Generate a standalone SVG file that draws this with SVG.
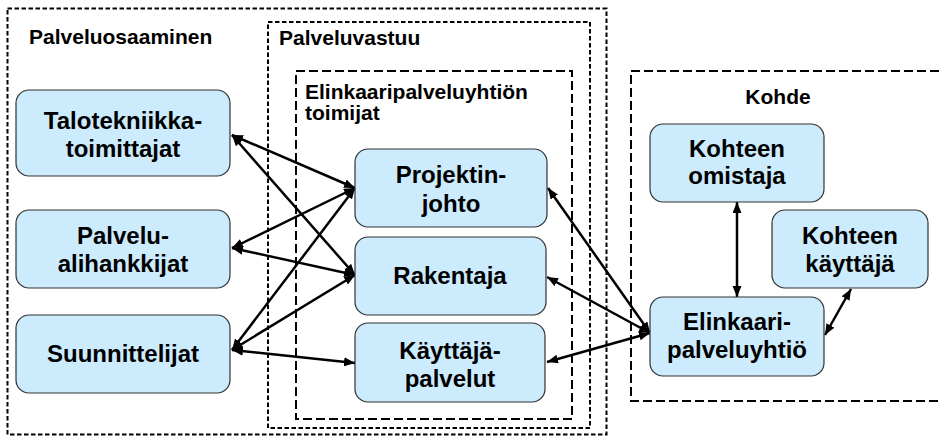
<svg xmlns="http://www.w3.org/2000/svg" width="942" height="436" viewBox="0 0 942 436">
  <style>
    .frame { fill: none; stroke: #000; stroke-width: 2; }
    .short { stroke-dasharray: 4.5 2.5; }
    .long { stroke-dasharray: 9 4; }
    .title { font-family: "Liberation Sans", Arial, sans-serif; font-weight: bold; font-size: 21px; fill: #000; }
    .node rect { fill: #CCEBFD; stroke: #333; stroke-width: 1.2; }
    .node text { font-family: "Liberation Sans", Arial, sans-serif; font-weight: bold; font-size: 24px; fill: #000; text-anchor: middle; }
    .link { stroke: #000; stroke-width: 2.5; fill: none; marker-start: url(#arrow); marker-end: url(#arrow); }
  </style>
  <defs>
    <marker id="arrow" markerUnits="userSpaceOnUse" markerWidth="12" markerHeight="10" refX="11" refY="4.5" orient="auto-start-reverse">
      <path d="M0,0 L11,4.5 L0,9 Z" fill="#000"/>
    </marker>
  </defs>
  <rect width="942" height="436" fill="#fff"/>

  <!-- grouping frames -->
  <g id="frames">
    <rect class="frame short" x="7.5" y="8.5" width="599" height="426"/>
    <rect class="frame short" x="268" y="22" width="322" height="406"/>
    <rect class="frame long" x="296" y="71" width="276" height="348"/>
    <rect class="frame long" x="631" y="71" width="320" height="330"/>
    <text class="title" x="29" y="44">Palveluosaaminen</text>
    <text class="title" x="279" y="45">Palveluvastuu</text>
    <text class="title" x="305" y="99">Elinkaaripalveluyhtiön</text>
    <text class="title" x="305" y="120">toimijat</text>
    <text class="title" x="778" y="104" text-anchor="middle">Kohde</text>
  </g>

  <!-- connectors -->
  <g id="connectors">
    <line class="link" x1="232" y1="135" x2="355" y2="188"/>
    <line class="link" x1="232" y1="135" x2="355" y2="275"/>
    <line class="link" x1="232" y1="248" x2="355" y2="188"/>
    <line class="link" x1="232" y1="248" x2="355" y2="275"/>
    <line class="link" x1="232" y1="350" x2="355" y2="188"/>
    <line class="link" x1="232" y1="350" x2="355" y2="275"/>
    <line class="link" x1="232" y1="350" x2="355" y2="363"/>
    <line class="link" x1="548" y1="188" x2="650" y2="333"/>
    <line class="link" x1="547" y1="277" x2="650" y2="333"/>
    <line class="link" x1="547" y1="362" x2="650" y2="333"/>
    <line class="link" x1="737" y1="202" x2="737" y2="297"/>
    <line class="link" x1="851" y1="289" x2="825" y2="335"/>
  </g>

  <!-- nodes -->
  <g id="talotekniikka" class="node">
    <rect x="16" y="90" width="214" height="86" rx="13"/>
    <text x="123" y="129">Talotekniikka-</text>
    <text x="123" y="157">toimittajat</text>
  </g>
  <g id="alihankkijat" class="node">
    <rect x="16" y="210" width="214" height="78" rx="13"/>
    <text x="123" y="244">Palvelu-</text>
    <text x="123" y="272">alihankkijat</text>
  </g>
  <g id="suunnittelijat" class="node">
    <rect x="16" y="315" width="214" height="78" rx="13"/>
    <text x="123" y="362">Suunnittelijat</text>
  </g>
  <g id="projektinjohto" class="node">
    <rect x="355" y="149" width="192" height="78" rx="13"/>
    <text x="451" y="183">Projektin-</text>
    <text x="451" y="212">johto</text>
  </g>
  <g id="rakentaja" class="node">
    <rect x="355" y="237" width="191" height="78" rx="13"/>
    <text x="450" y="284">Rakentaja</text>
  </g>
  <g id="kayttajapalvelut" class="node">
    <rect x="355" y="323" width="190" height="79" rx="13"/>
    <text x="450" y="359">Käyttäjä-</text>
    <text x="450" y="387">palvelut</text>
  </g>
  <g id="omistaja" class="node">
    <rect x="650" y="124" width="174" height="78" rx="13"/>
    <text x="737" y="157">Kohteen</text>
    <text x="737" y="184">omistaja</text>
  </g>
  <g id="kayttaja" class="node">
    <rect x="772" y="210" width="156" height="78" rx="13"/>
    <text x="850" y="244">Kohteen</text>
    <text x="850" y="272">käyttäjä</text>
  </g>
  <g id="elinkaaripalveluyhtio" class="node">
    <rect x="650" y="297" width="174" height="79" rx="13"/>
    <text x="737" y="330">Elinkaari-</text>
    <text x="737" y="358">palveluyhtiö</text>
  </g>
</svg>
